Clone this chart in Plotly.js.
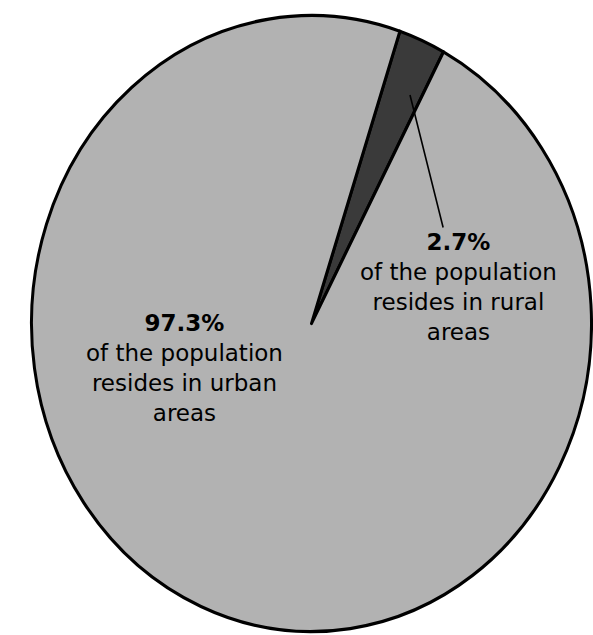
<!DOCTYPE html>
<html>
<head>
<meta charset="utf-8">
<script src="https://cdn.plot.ly/plotly-3.0.1.min.js"></script>
<style>
  html, body { margin: 0; padding: 0; background: #ffffff; }
  #chart { width: 593px; height: 635px; }
  /* the scanned original is slightly taller than wide */
  #chart .pielayer { transform: scaleY(1.1); transform-origin: 311.5px 323.5px; }
</style>
</head>
<body>
<div id="chart"></div>
<script>
// Data
const categories = ["Rural", "Urban"];
const shares = [2.7, 97.3];
const shareLabels = ["2.7%", "97.3%"];
const descriptions = [
  "of the population<br>resides in rural<br>areas",
  "of the population<br>resides in urban<br>areas"
];

// Styles
const sliceColors = ["#3a3a3a", "#b2b2b2"];
const textFont = { family: "DejaVu Sans, Arial, sans-serif", size: 23, color: "#000000" };

const W = 593, H = 635;
const cx = 311.5, cy = 323.5, r = 280;

const pie = {
  type: "pie",
  labels: categories,
  values: shares,
  sort: false,
  direction: "clockwise",
  rotation: 18.4,
  textinfo: "none",
  hoverinfo: "skip",
  showlegend: false,
  domain: {
    x: [(cx - r) / W, (cx + r) / W],
    y: [(H - cy - r) / H, (H - cy + r) / H]
  },
  marker: { colors: sliceColors, line: { color: "#000000", width: 3 } }
};

const annotations = [
  {
    text: "<b>" + shareLabels[0] + "</b><br>" + descriptions[0],
    xref: "paper", yref: "paper",
    x: 410 / W, y: (H - 95) / H,
    ax: 48, ay: 192,
    showarrow: true, arrowhead: 0, arrowwidth: 1.6, arrowcolor: "#000000",
    font: textFont, align: "center"
  },
  {
    text: "<b>" + shareLabels[1] + "</b><br>" + descriptions[1],
    xref: "paper", yref: "paper",
    x: 184 / W, y: (H - 368) / H,
    xanchor: "center", yanchor: "middle",
    showarrow: false,
    font: textFont, align: "center"
  }
];

const layout = {
  width: W, height: H,
  margin: { l: 0, r: 0, t: 0, b: 0, pad: 0 },
  paper_bgcolor: "#ffffff",
  plot_bgcolor: "#ffffff",
  showlegend: false,
  annotations: annotations
};

Plotly.newPlot("chart", [pie], layout, { displayModeBar: false, staticPlot: true });
</script>
</body>
</html>
